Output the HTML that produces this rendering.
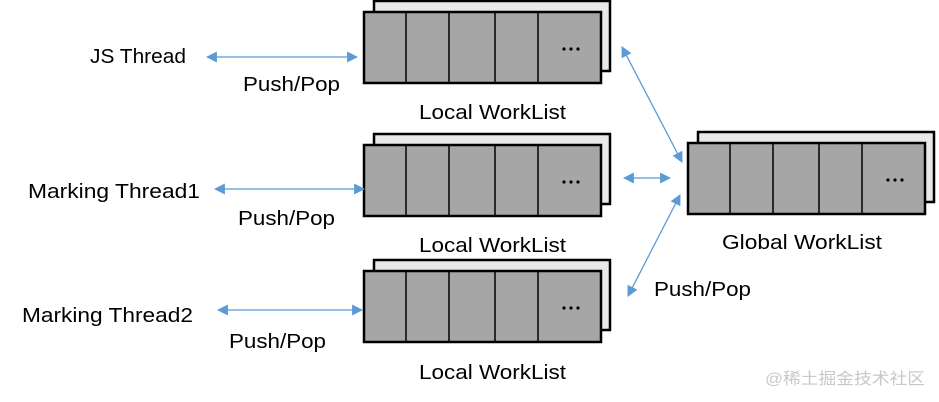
<!DOCTYPE html>
<html><head><style>body{margin:0;background:#fff}svg{display:block}text{font-family:"Liberation Sans","Noto Sans CJK SC",sans-serif;font-size:20px;fill:#000}</style></head><body>
<svg width="939" height="402" viewBox="0 0 939 402" xmlns="http://www.w3.org/2000/svg">
<defs>
<marker id="a" viewBox="0 0 10 10" refX="9" refY="5" markerWidth="11" markerHeight="11" markerUnits="userSpaceOnUse" orient="auto-start-reverse"><path d="M0,0L10,5L0,10z" fill="#5b9bd5"/></marker>
<g id="L">
<rect x="10" y="-11" width="236" height="70" fill="#e8e8e8" stroke="#000" stroke-width="2.5"/>
<rect x="0" y="0" width="237" height="71" fill="#a6a6a6" stroke="#000" stroke-width="2.5"/>
<path d="M42,0V71M85,0V71M131,0V71M174,0V71" stroke="#000" stroke-width="1.5"/>
<circle cx="200" cy="37" r="1.6" fill="#000"/><circle cx="207" cy="37" r="1.6" fill="#000"/><circle cx="214" cy="37" r="1.6" fill="#000"/>
</g>
</defs>
<use href="#L" x="364" y="12"/>
<use href="#L" x="364" y="145"/>
<use href="#L" x="364" y="271"/>
<use href="#L" x="688" y="143"/>
<g stroke="#5b9bd5" stroke-width="1.3" fill="none" marker-start="url(#a)" marker-end="url(#a)">
<line x1="207" y1="57" x2="357" y2="57"/>
<line x1="215" y1="189" x2="364" y2="189"/>
<line x1="218" y1="310" x2="362" y2="310"/>
<line x1="622" y1="47" x2="682" y2="162"/>
<line x1="624" y1="178" x2="670" y2="178"/>
<line x1="628" y1="296" x2="680" y2="195"/>
</g>
<text x="90" y="63" textLength="96" lengthAdjust="spacingAndGlyphs">JS Thread</text>
<text x="243" y="91" textLength="97" lengthAdjust="spacingAndGlyphs">Push/Pop</text>
<text x="419" y="119" textLength="147" lengthAdjust="spacingAndGlyphs">Local WorkList</text>
<text x="28" y="198" textLength="172" lengthAdjust="spacingAndGlyphs">Marking Thread1</text>
<text x="238" y="225" textLength="97" lengthAdjust="spacingAndGlyphs">Push/Pop</text>
<text x="419" y="252" textLength="147" lengthAdjust="spacingAndGlyphs">Local WorkList</text>
<text x="22" y="322" textLength="171" lengthAdjust="spacingAndGlyphs">Marking Thread2</text>
<text x="229" y="348" textLength="97" lengthAdjust="spacingAndGlyphs">Push/Pop</text>
<text x="419" y="379" textLength="147" lengthAdjust="spacingAndGlyphs">Local WorkList</text>
<text x="722" y="249" textLength="160" lengthAdjust="spacingAndGlyphs">Global WorkList</text>
<text x="654" y="296" textLength="97" lengthAdjust="spacingAndGlyphs">Push/Pop</text>
<text x="765" y="384" textLength="160" lengthAdjust="spacingAndGlyphs" style="font-size:16px;fill:#c8c8c8">@稀土掘金技术社区</text>
</svg>
</body></html>
